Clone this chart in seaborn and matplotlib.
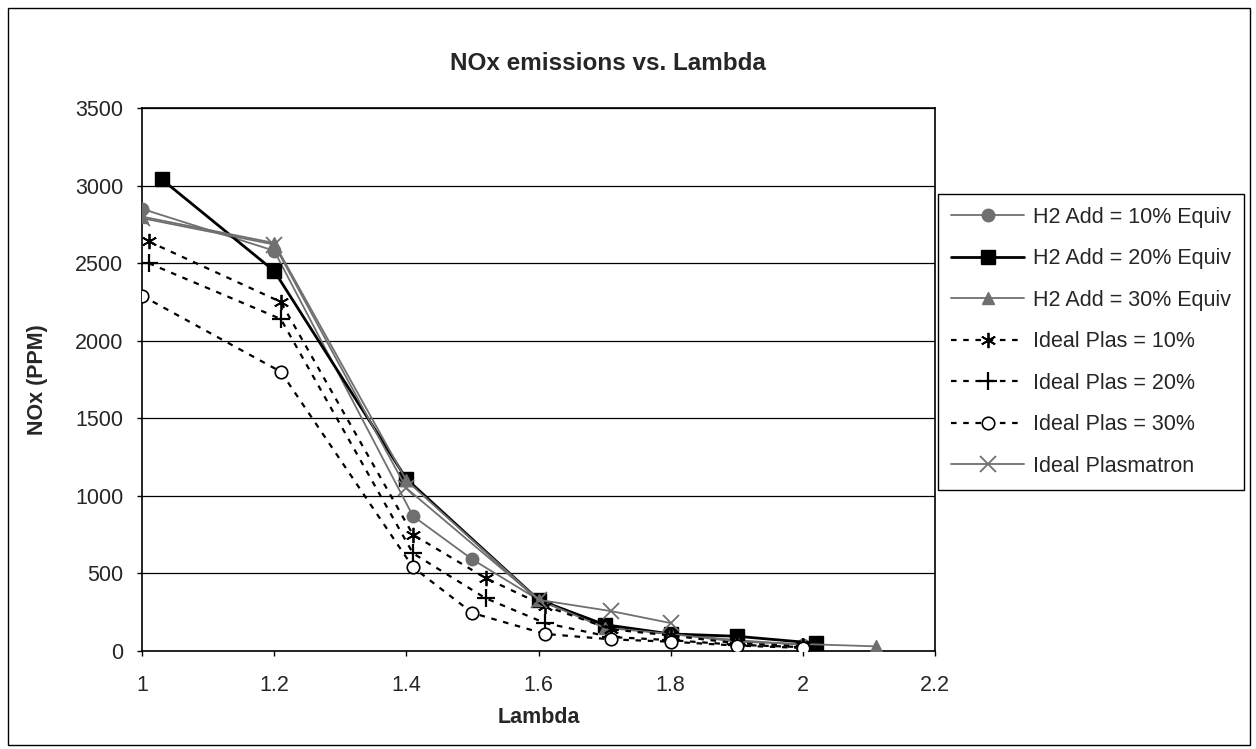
import matplotlib
matplotlib.use("Agg")
import matplotlib.pyplot as plt
import seaborn as sns
import pandas as pd
from matplotlib.patches import Rectangle

# data
lam_h2_10 = [1.0, 1.2, 1.41, 1.5, 1.6, 1.7, 1.8, 1.9, 2.0]
nox_h2_10 = [2850, 2580, 870, 590, 330, 160, 110, 70, 40]

lam_h2_20 = [1.03, 1.2, 1.4, 1.6, 1.7, 1.8, 1.9, 2.02]
nox_h2_20 = [3040, 2450, 1110, 330, 170, 110, 95, 50]

lam_h2_30 = [1.0, 1.2, 1.4, 1.6, 1.7, 1.8, 1.9, 2.0, 2.11]
nox_h2_30 = [2800, 2630, 1100, 330, 150, 110, 60, 45, 30]

lam_ip_10 = [1.01, 1.21, 1.41, 1.52, 1.61, 1.71, 1.8, 1.9, 2.0]
nox_ip_10 = [2640, 2250, 750, 470, 290, 140, 100, 50, 30]

lam_ip_20 = [1.01, 1.21, 1.41, 1.52, 1.61, 1.71, 1.8, 1.9, 2.0]
nox_ip_20 = [2500, 2140, 630, 340, 180, 90, 70, 40, 25]

lam_ip_30 = [1.0, 1.21, 1.41, 1.5, 1.61, 1.71, 1.8, 1.9, 2.0]
nox_ip_30 = [2290, 1800, 540, 245, 110, 75, 60, 35, 20]

lam_ideal = [1.0, 1.2, 1.4, 1.6, 1.71, 1.8]
nox_ideal = [2790, 2620, 1050, 330, 257, 180]

labels = ["H2 Add = 10% Equiv", "H2 Add = 20% Equiv", "H2 Add = 30% Equiv",
          "Ideal Plas = 10%", "Ideal Plas = 20%", "Ideal Plas = 30%",
          "Ideal Plasmatron"]

x_ticks = [1, 1.2, 1.4, 1.6, 1.8, 2, 2.2]
x_tick_labels = ["1", "1.2", "1.4", "1.6", "1.8", "2", "2.2"]
y_ticks = [0, 500, 1000, 1500, 2000, 2500, 3000, 3500]


def main():
    sns.set_style("white")
    plt.rcParams["font.family"] = ["Liberation Sans", "DejaVu Sans"]

    gray = "#6f6f6f"
    dash = (0, (2.5, 3.0))
    styles = [
        dict(color=gray, lw=1.3, ls="-", marker="o", ms=9, mfc=gray, mec=gray),
        dict(color="black", lw=2.0, ls="-", marker="s", ms=10, mfc="black", mec="black"),
        dict(color=gray, lw=1.3, ls="-", marker="^", ms=9, mfc=gray, mec=gray),
        dict(color="black", lw=1.6, ls=dash, marker=(6, 2, 0), ms=11, mec="black", mew=1.3),
        dict(color="black", lw=1.6, ls=dash, marker="+", ms=13, mec="black", mew=1.6),
        dict(color="black", lw=1.6, ls=dash, marker="o", ms=9, mfc="white", mec="black", mew=1.2),
        dict(color=gray, lw=1.3, ls="-", marker="x", ms=11, mec=gray, mew=1.3),
    ]
    lams = [lam_h2_10, lam_h2_20, lam_h2_30, lam_ip_10, lam_ip_20, lam_ip_30, lam_ideal]
    noxs = [nox_h2_10, nox_h2_20, nox_h2_30, nox_ip_10, nox_ip_20, nox_ip_30, nox_ideal]

    fig = plt.figure(figsize=(12.56, 7.49), dpi=100)
    ax = fig.add_axes([142 / 1256, 1 - 651 / 749, (935 - 142) / 1256, (651 - 108) / 749])

    for label, lam, nox, st in zip(labels, lams, noxs, styles):
        df = pd.DataFrame({"Lambda": lam, "NOx": nox})
        sns.lineplot(data=df, x="Lambda", y="NOx", ax=ax, label=label,
                     color=st["color"], linewidth=st["lw"], linestyle=st["ls"],
                     marker=st["marker"], markersize=st["ms"],
                     markerfacecolor=st.get("mfc", "none"),
                     markeredgecolor=st["mec"],
                     markeredgewidth=st.get("mew", 1.0),
                     errorbar=None, zorder=3)

    ax.set_xlim(1, 2.2)
    ax.set_ylim(0, 3500)
    ax.set_xticks(x_ticks)
    ax.set_xticklabels(x_tick_labels)
    ax.set_yticks(y_ticks)
    ax.yaxis.grid(True, color="black", linewidth=0.9)
    ax.xaxis.grid(False)
    for sp in ax.spines.values():
        sp.set_color("black")
        sp.set_linewidth(1.2)
    ax.tick_params(axis="both", direction="out", length=3.5, width=1, color="black",
                   labelsize=15.5, bottom=True, left=True)
    ax.tick_params(axis="x", pad=14)
    ax.tick_params(axis="y", pad=10)

    ax.set_xlabel("Lambda", fontsize=15.5, fontweight="bold")
    ax.set_ylabel("NOx (PPM)", fontsize=15.5, fontweight="bold")
    ax.xaxis.set_label_coords(0.5, -0.103)
    ax.yaxis.set_label_coords(-0.118, 0.5)
    fig.text(608 / 1256, 1 - 63 / 749, "NOx emissions vs. Lambda", fontsize=17.5,
             fontweight="bold", ha="center", va="center")

    ax.legend(loc="upper left", bbox_to_anchor=(938 / 1256, 1 - 194 / 749),
              bbox_transform=fig.transFigure, fontsize=15.5, frameon=True,
              fancybox=False, edgecolor="black", framealpha=1, borderpad=0.6,
              handlelength=3.4, handletextpad=0.4, labelspacing=0.95,
              borderaxespad=0)
    ax.get_legend().get_frame().set_linewidth(1.0)

    fig.patches.append(Rectangle((8 / 1256, 4 / 749), (1250 - 8) / 1256, (745 - 8) / 749,
                                 transform=fig.transFigure, fill=False,
                                 edgecolor="black", linewidth=1.0))
    fig.savefig("out.png", dpi=100)


if __name__ == "__main__":
    main()
